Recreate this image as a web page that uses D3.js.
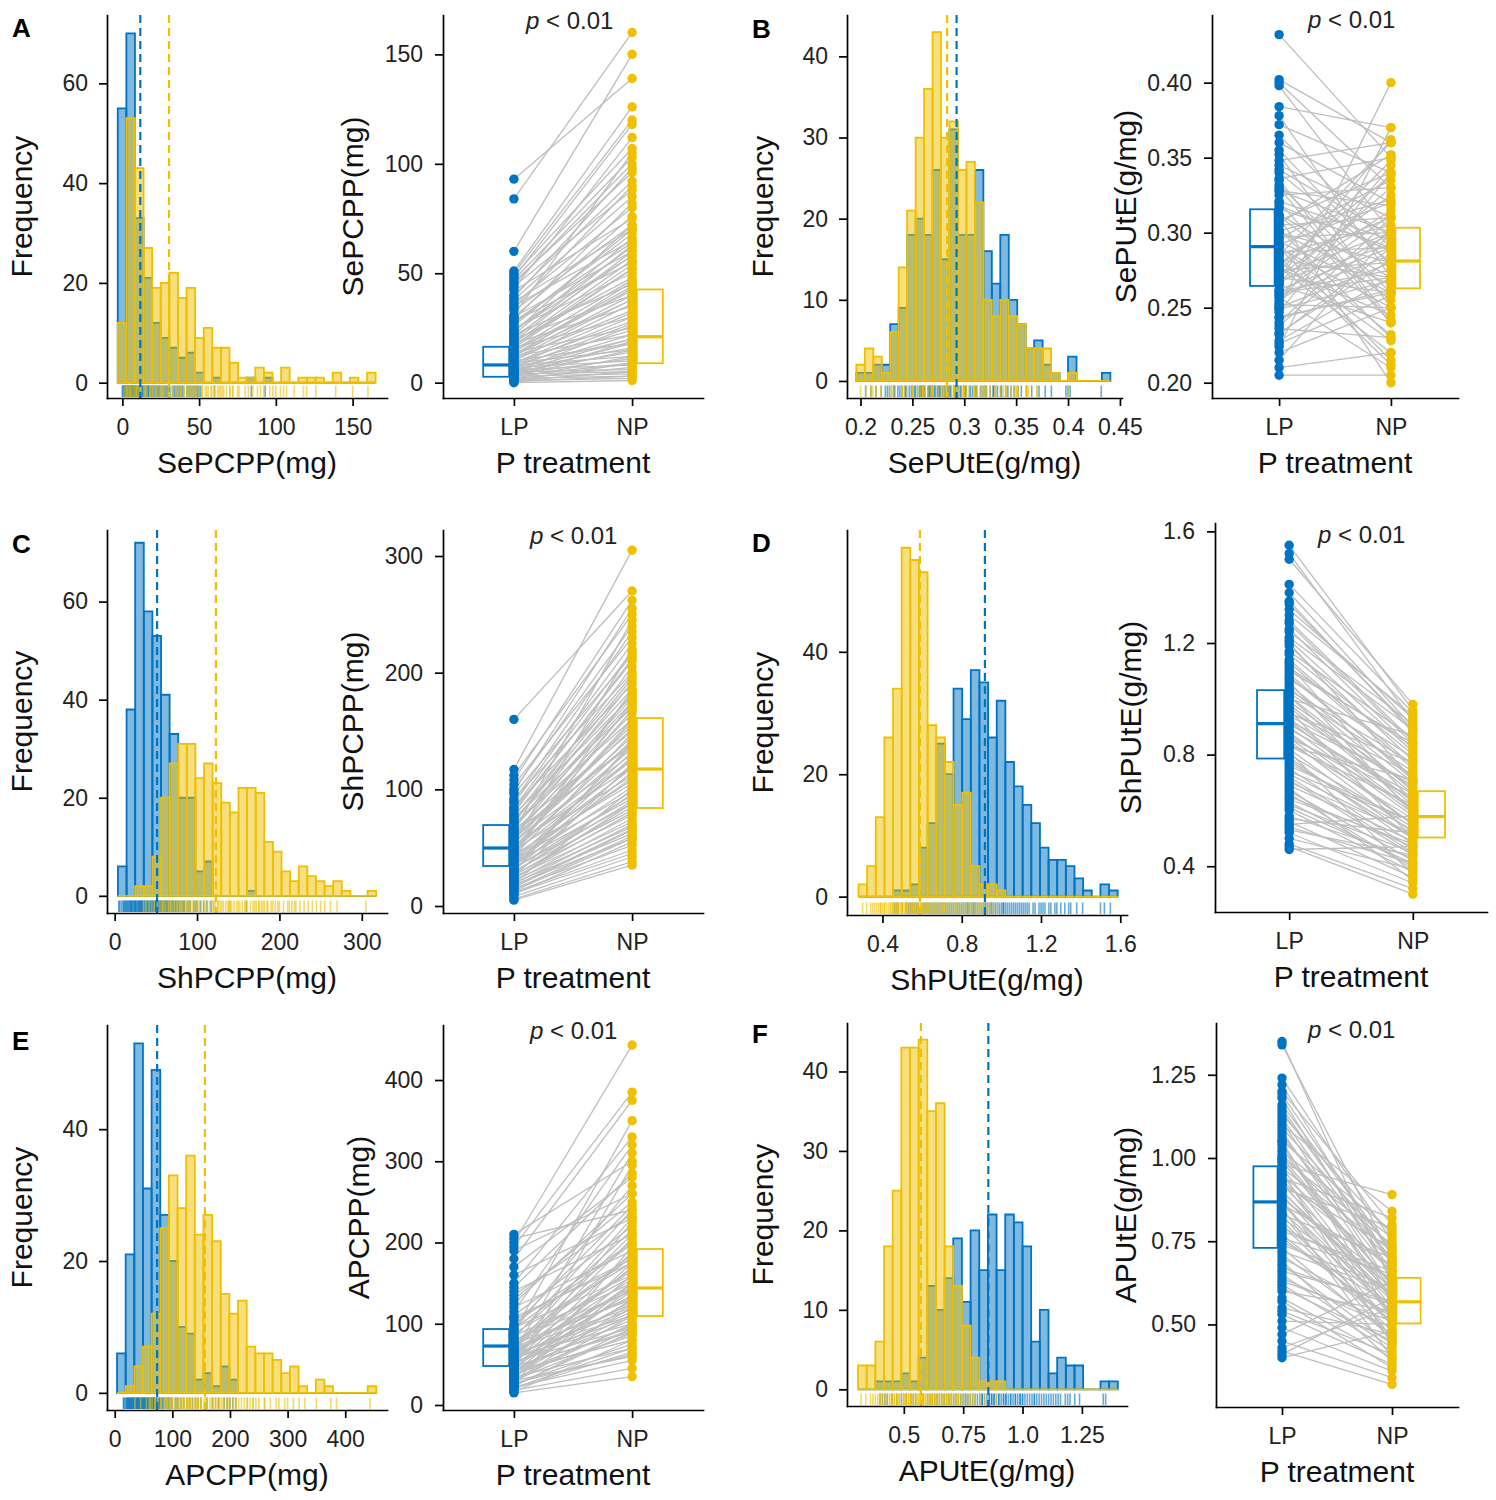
<!DOCTYPE html>
<html>
<head>
<meta charset="utf-8">
<script src="https://cdn.jsdelivr.net/npm/d3@7"></script>
<style>
  body { margin: 0; background: #fff; }
</style>
</head>
<body>
<svg id="chart" width="1496" height="1500"></svg>
<script>
// ---- data ----
const letters = ['A', 'B', 'C', 'D', 'E', 'F'];
const traitTitles = ['SePCPP(mg)', 'SePUtE(g/mg)', 'ShPCPP(mg)', 'ShPUtE(g/mg)', 'APCPP(mg)', 'APUtE(g/mg)'];
const treatments = ['LP', 'NP'];
const pValueText = ' < 0.01';

// histogram bins (first edge, width) and counts per group
const binStart = [-3, 0.196, 4, 0.279, 4, 0.3071];
const binWidth = [5.6, 0.00816, 10.45, 0.0436, 15, 0.03647];

const countsLP_A = [55,70,33,21,12,9,7,5,6,2,0,1,0,0,0,1,0,1,0,0,0,0,0,0,0,0,0,0,0,0];
const countsNP_A = [12,53,43,27,19,20,22,17,19,9,11,7,7,4,1,1,3,2,0,3,0,1,1,1,0,2,0,1,0,2];
const countsLP_B = [1,1,2,2,7,9,18,20,18,26,15,31,18,18,26,16,12,18,10,7,4,5,2,1,0,3,0,0,0,1];
const countsNP_B = [2,4,3,1,6,14,21,30,36,43,30,32,26,27,22,10,8,10,8,7,4,4,4,1,0,1,0,0,0,0];
const countsLP_C = [6,38,72,58,53,41,33,20,20,5,7,0,0,0,0,1,0,0,0,0,0,0,0,0,0,0,0,0,0,0];
const countsNP_C = [0,0,2,2,8,20,27,31,31,24,27,23,19,17,22,22,21,11,9,5,3,6,4,3,2,3,1,0,0,1];
const countsLP_D = [0,0,0,0,1,1,2,8,12,25,20,34,29,37,35,26,32,22,18,15,12,8,6,6,5,3,1,0,2,1];
const countsNP_D = [2,5,13,26,34,57,55,53,28,26,22,15,17,5,2,2,1,0,0,0,0,0,0,0,0,0,0,0,0,0];
const countsLP_E = [6,21,53,31,49,27,20,10,9,2,3,1,4,2,0,0,0,0,0,0,0,0,0,0,0,0,0,0,0,0];
const countsNP_E = [0,1,4,7,12,25,33,28,36,24,27,23,15,12,14,7,6,6,5,3,4,1,0,2,1,0,0,0,0,1];
const countsLP_F = [0,0,1,1,1,2,1,4,13,10,14,19,11,20,15,22,15,22,21,18,6,10,2,4,3,3,0,0,1,1];
const countsNP_F = [3,3,6,18,25,43,43,44,35,36,18,13,8,4,1,1,1,0,0,0,0,0,0,0,0,0,0,0,0,0];

// group means (dashed lines): [LP, NP]
const means_A = [11.7, 30.4];
const means_B = [0.2926, 0.2835];
const means_C = [51.5, 122.9];
const means_D = [0.917, 0.589];
const means_E = [73.6, 156.5];
const means_F = [0.856, 0.572];

// paired genotype values (LP[i] joined to NP[i])
const pairLP_A = [93,84,60,51,50,49,48,47,46,45,44,42,40,38,37,36,35,33,31,30,28,27,25,24,22,21,20,19,18,17,16,15,14,13,12,11,10,9,9,8,8,7,7,6,6,5,5,4,4,3,3,2,2,1,1,0.5,0,12,5,3,
  2,4,6,8,10,12,14,16,18,20,22,24,26,28,30,1,3,5,7,9,11,13,15,17,19,23,29,34,39,43];
const pairNP_A = [139,160,150,126,120,107,118,103,96,100,88,75,92,85,70,80,65,72,105,60,55,68,50,62,45,58,40,48,35,52,30,42,25,38,22,33,18,28,15,24,12,20,10,16,8,14,6,11,5,9,4,7,3,5,2,3,1,46,26,19,
  12,18,22,30,36,40,44,52,56,63,66,58,70,64,76,9,15,20,27,32,38,43,47,54,60,72,82,90,98,112];
const pairLP_B = [0.432,0.402,0.400,0.398,0.384,0.378,0.372,0.365,0.360,0.352,0.348,0.345,0.340,0.336,0.332,0.328,0.325,0.320,0.316,0.312,0.308,0.305,0.302,0.300,0.297,0.294,0.292,0.290,0.287,0.285,0.282,0.280,0.277,0.275,0.272,0.270,0.267,0.265,0.262,0.260,0.257,0.255,0.252,0.250,0.247,0.244,0.240,0.236,0.232,0.228,0.224,0.220,0.215,0.210,0.205,0.250,0.310,0.290,0.270,0.330,
  0.300,0.286,0.276,0.266,0.258,0.311,0.321,0.296,0.281,0.271,0.261,0.253,0.243,0.238,0.318,0.328,0.335,0.342,0.355,0.306,0.291,0.279,0.268,0.259,0.249,0.233,0.226,0.301,0.284,0.274];
const pairNP_B = [0.350,0.360,0.330,0.300,0.370,0.270,0.340,0.290,0.320,0.250,0.360,0.310,0.280,0.350,0.260,0.300,0.330,0.240,0.290,0.270,0.340,0.310,0.230,0.280,0.300,0.260,0.320,0.250,0.290,0.360,0.270,0.310,0.220,0.280,0.300,0.260,0.330,0.240,0.290,0.270,0.210,0.300,0.250,0.280,0.340,0.260,0.310,0.230,0.290,0.270,0.370,0.250,0.300,0.220,0.205,0.400,0.200,0.215,0.362,0.240,
  0.265,0.305,0.245,0.315,0.285,0.255,0.295,0.335,0.228,0.325,0.275,0.345,0.262,0.302,0.288,0.318,0.242,0.298,0.278,0.352,0.232,0.338,0.292,0.312,0.268,0.282,0.258,0.322,0.212,0.348];
const pairLP_C = [160,117,112,108,104,100,96,92,88,85,82,78,75,72,70,67,65,62,60,58,56,54,52,50,48,46,44,42,40,38,37,35,33,32,30,29,27,26,25,24,22,21,20,19,18,16,15,14,12,10,8,6,5,30,45,55,64,20,36,50,
  11,13,17,23,28,31,34,39,41,43,47,49,51,53,57,59,61,63,66,69,71,74,77,80,84,90,98,25,33,45];
const pairNP_C = [270,305,250,262,230,240,215,200,225,190,210,180,170,195,160,175,150,165,140,155,130,145,120,135,112,125,105,118,98,110,92,102,88,95,82,90,78,85,72,80,68,75,62,70,58,65,52,60,48,55,42,38,35,140,185,220,245,100,128,160,
  45,58,66,88,96,115,120,132,108,148,142,158,126,168,152,172,182,138,192,178,205,186,198,212,218,235,255,122,138,175];
const pairLP_D = [1.55,1.52,1.50,1.41,1.38,1.35,1.32,1.28,1.25,1.22,1.19,1.16,1.13,1.10,1.08,1.05,1.03,1.01,0.99,0.97,0.95,0.93,0.91,0.90,0.88,0.87,0.85,0.84,0.82,0.80,0.79,0.77,0.75,0.73,0.71,0.69,0.67,0.65,0.63,0.62,0.60,0.58,0.56,0.54,0.52,0.50,0.48,0.46,0.47,0.55,1.00,0.92,0.86,1.06,0.74,0.96,1.12,0.81,0.68,1.20,
  0.61,0.64,0.66,0.70,0.72,0.76,0.78,0.83,0.86,0.89,0.92,0.94,0.98,1.02,1.04,1.07,1.09,1.11,1.14,1.17,1.21,1.24,1.27,1.30,1.34,0.57,0.53,0.83,0.95,1.01];
const pairNP_D = [0.96,0.92,0.98,0.95,0.90,0.88,0.93,0.85,0.82,0.89,0.78,0.80,0.75,0.84,0.72,0.70,0.77,0.66,0.68,0.62,0.73,0.60,0.64,0.58,0.55,0.61,0.52,0.57,0.50,0.54,0.48,0.53,0.46,0.51,0.44,0.49,0.42,0.47,0.40,0.45,0.38,0.43,0.36,0.41,0.34,0.39,0.32,0.47,0.30,0.58,0.87,0.70,0.65,0.59,0.56,0.50,0.63,0.37,0.35,0.71,
  0.41,0.48,0.39,0.52,0.45,0.56,0.50,0.62,0.55,0.66,0.59,0.69,0.63,0.74,0.67,0.79,0.71,0.83,0.76,0.86,0.81,0.91,0.84,0.94,0.89,0.52,0.44,0.71,0.77,0.60];
const pairLP_E = [210,205,200,195,190,180,170,160,150,140,130,120,115,110,105,100,95,92,88,85,82,80,77,75,72,70,68,66,64,62,60,58,56,54,52,50,48,46,44,42,40,38,36,34,32,30,28,26,24,22,20,18,16,15,45,65,90,55,35,25,
  21,23,27,29,31,33,37,39,41,43,47,49,51,53,57,59,61,63,67,69,71,74,78,84,94,98,108,125,135,145];
const pairNP_E = [300,240,443,385,260,375,280,230,330,210,250,190,320,220,180,200,160,270,175,150,240,140,185,130,165,120,210,145,110,155,100,135,125,95,170,115,90,140,105,80,130,85,120,70,100,60,110,75,90,55,65,45,80,35,295,310,350,225,150,195,
  70,95,62,125,88,145,98,160,112,175,92,150,128,188,108,205,118,168,142,230,132,182,158,215,198,245,175,260,235,285];
const pairLP_F = [1.35,1.34,1.24,1.22,1.20,1.18,1.16,1.12,1.10,1.08,1.06,1.04,1.02,1.00,0.98,0.97,0.95,0.93,0.92,0.90,0.88,0.87,0.86,0.84,0.82,0.80,0.79,0.77,0.75,0.73,0.72,0.70,0.68,0.66,0.64,0.62,0.60,0.58,0.55,0.53,0.51,0.49,0.47,0.45,0.43,0.42,0.40,0.41,0.96,1.05,0.85,0.91,0.76,0.94,1.00,0.83,0.69,0.99,1.14,0.89,
  0.61,0.63,0.65,0.67,0.71,0.74,0.76,0.78,0.81,0.83,0.86,0.88,0.90,0.93,0.95,0.97,0.99,1.01,1.03,1.05,1.07,1.09,1.11,1.13,1.15,1.19,0.57,0.54,0.87,0.92];
const pairNP_F = [0.62,0.70,0.75,0.68,0.80,0.64,0.72,0.66,0.84,0.60,0.70,0.58,0.76,0.62,0.89,0.55,0.66,0.52,0.73,0.57,0.61,0.50,0.68,0.54,0.59,0.48,0.64,0.51,0.56,0.46,0.60,0.53,0.44,0.57,0.49,0.42,0.54,0.40,0.47,0.38,0.50,0.36,0.63,0.34,0.55,0.32,0.48,0.58,0.44,0.52,0.40,0.79,0.65,0.82,0.74,0.45,0.39,0.60,0.69,0.53,
  0.45,0.51,0.43,0.56,0.47,0.61,0.52,0.66,0.50,0.70,0.55,0.63,0.58,0.67,0.53,0.72,0.62,0.69,0.57,0.78,0.65,0.73,0.61,0.77,0.68,0.71,0.37,0.41,0.46,0.59];

// box quartiles [q1, median, q3]
const boxLP_A = [2.7, 8.1, 16.4],     boxNP_A = [8.9, 21, 42.6];
const boxLP_B = [0.2645, 0.2907, 0.3156], boxNP_B = [0.2629, 0.2811, 0.3033];
const boxLP_C = [34.3, 49.7, 69.4],   boxNP_C = [84, 117.4, 161.1];
const boxLP_D = [0.786, 0.911, 1.031], boxNP_D = [0.503, 0.578, 0.669];
const boxLP_E = [48, 72.6, 93.5],     boxNP_E = [109.5, 144, 192];
const boxLP_F = [0.730, 0.868, 0.975], boxNP_F = [0.503, 0.568, 0.640];

// tick labels
const histXLabels_A = ['0', '50', '100', '150'];
const histXLabels_B = ['0.2', '0.25', '0.3', '0.35', '0.4', '0.45'];
const histXLabels_C = ['0', '100', '200', '300'];
const histXLabels_D = ['0.4', '0.8', '1.2', '1.6'];
const histXLabels_E = ['0', '100', '200', '300', '400'];
const histXLabels_F = ['0.5', '0.75', '1.0', '1.25'];
const histYLabels_A = ['0', '20', '40', '60'];
const histYLabels_B = ['0', '10', '20', '30', '40'];
const histYLabels_C = ['0', '20', '40', '60'];
const histYLabels_D = ['0', '20', '40'];
const histYLabels_E = ['0', '20', '40'];
const histYLabels_F = ['0', '10', '20', '30', '40'];
const pairYLabels_A = ['0', '50', '100', '150'];
const pairYLabels_B = ['0.20', '0.25', '0.30', '0.35', '0.40'];
const pairYLabels_C = ['0', '100', '200', '300'];
const pairYLabels_D = ['0.4', '0.8', '1.2', '1.6'];
const pairYLabels_E = ['0', '100', '200', '300', '400'];
const pairYLabels_F = ['0.50', '0.75', '1.00', '1.25'];

// ---- tables built from the arrays above ----
const countsLP = [countsLP_A, countsLP_B, countsLP_C, countsLP_D, countsLP_E, countsLP_F];
const countsNP = [countsNP_A, countsNP_B, countsNP_C, countsNP_D, countsNP_E, countsNP_F];
const means = [means_A, means_B, means_C, means_D, means_E, means_F];
const pairLP = [pairLP_A, pairLP_B, pairLP_C, pairLP_D, pairLP_E, pairLP_F];
const pairNP = [pairNP_A, pairNP_B, pairNP_C, pairNP_D, pairNP_E, pairNP_F];
const boxLP = [boxLP_A, boxLP_B, boxLP_C, boxLP_D, boxLP_E, boxLP_F];
const boxNP = [boxNP_A, boxNP_B, boxNP_C, boxNP_D, boxNP_E, boxNP_F];
const histXLabels = [histXLabels_A, histXLabels_B, histXLabels_C, histXLabels_D, histXLabels_E, histXLabels_F];
const histYLabels = [histYLabels_A, histYLabels_B, histYLabels_C, histYLabels_D, histYLabels_E, histYLabels_F];
const pairYLabels = [pairYLabels_A, pairYLabels_B, pairYLabels_C, pairYLabels_D, pairYLabels_E, pairYLabels_F];

// ---- layout (pixel positions of each panel) ----
const histLayout = [
  { x0: 107, x1: 387, y0: 15, y1: 398, xd: [-10.0, 172.4], yd: [-3.07, 73.7], letter: [12, 37], yTitle: 21 },
  { x0: 847, x1: 1122, y0: 15, y1: 398, xd: [0.187, 0.452], yd: [-2.1, 45.1], letter: [752, 38], yTitle: 762 },
  { x0: 107, x1: 387, y0: 530, y1: 913, xd: [-9.3, 330.6], yd: [-3.5, 74.6], letter: [12, 553], yTitle: 21 },
  { x0: 847, x1: 1127, y0: 530, y1: 915, xd: [0.221, 1.634], yd: [-3.0, 59.9], letter: [752, 552], yTitle: 762 },
  { x0: 107, x1: 387, y0: 1025, y1: 1410, xd: [-13.4, 472.5], yd: [-2.6, 55.8], letter: [12, 1050], yTitle: 21 },
  { x0: 847, x1: 1127, y0: 1023, y1: 1406, xd: [0.2607, 1.44], yd: [-2.1, 46.1], letter: [752, 1043], yTitle: 762 }
];
const pairLayout = [
  { x0: 443, x1: 703, y0: 15, y1: 398, yd: [-7, 168], yTitle: 352, pText: [526, 29] },
  { x0: 1212, x1: 1458, y0: 15, y1: 398, yd: [0.1898, 0.4451], yTitle: 1125, pText: [1308, 28] },
  { x0: 443, x1: 703, y0: 530, y1: 913, yd: [-6, 322.3], yTitle: 352, pText: [530, 544] },
  { x0: 1215, x1: 1487, y0: 523, y1: 912, yd: [0.236, 1.63], yTitle: 1130, pText: [1318, 543] },
  { x0: 443, x1: 703, y0: 1025, y1: 1410, yd: [-6.15, 467.7], yTitle: 358, pText: [530, 1039] },
  { x0: 1216, x1: 1458, y0: 1023, y1: 1407, yd: [0.252, 1.4055], yTitle: 1125, pText: [1308, 1038] }
];

const FONT = '"Liberation Sans", Arial, Helvetica, sans-serif';
const BLUE = '#0073C2', YELLOW = '#EFC000', GRAY = '#BEBEBE';
const TICK_FONT = 23, TITLE_FONT = 30;

const svg = d3.select('#chart').attr('font-family', FONT);

function styleAxis(g) {
  g.attr('font-family', FONT).attr('font-size', TICK_FONT);
  g.select('.domain').attr('stroke', '#000').attr('stroke-width', 1.7).attr('stroke-linecap', 'square');
  g.selectAll('.tick line').attr('stroke', '#000').attr('stroke-width', 1.7);
  g.selectAll('.tick text').attr('fill', '#222');
}

function xTitle(g, text, cx, y) {
  g.append('text').attr('x', cx).attr('y', y).attr('text-anchor', 'middle')
    .attr('font-size', TITLE_FONT).attr('fill', '#111').text(text);
}

function yTitle(g, text, x, cy) {
  g.append('text').attr('transform', `translate(${x},${cy}) rotate(-90)`)
    .attr('dy', '0.35em').attr('text-anchor', 'middle')
    .attr('font-size', TITLE_FONT).attr('fill', '#111').text(text);
}

function drawHist(i) {
  const L = histLayout[i];
  const g = svg.append('g');
  const x = d3.scaleLinear().domain(L.xd).range([L.x0, L.x1]);
  const y = d3.scaleLinear().domain(L.yd).range([L.y1, L.y0]);
  const groups = [
    { values: pairLP[i], counts: countsLP[i], mean: means[i][0], color: BLUE },
    { values: pairNP[i], counts: countsNP[i], mean: means[i][1], color: YELLOW }
  ];
  const rugLen = 0.03 * (L.y1 - L.y0);

  groups.forEach(grp => {
    g.append('g').selectAll('line')
      .data(grp.values)
      .enter().append('line')
      .attr('x1', d => x(d)).attr('x2', d => x(d))
      .attr('y1', L.y1 - 1).attr('y2', L.y1 - 1 - rugLen)
      .attr('stroke', grp.color).attr('stroke-opacity', 0.6).attr('stroke-width', 1.6);
  });

  groups.forEach(grp => {
    const bins = grp.counts.map((n, k) => ({
      x0: binStart[i] + k * binWidth[i],
      x1: binStart[i] + (k + 1) * binWidth[i],
      n
    }));
    g.append('g').selectAll('path')
      .data(bins)
      .enter().append('path')
      .attr('d', b => `M${x(b.x0)},${y(0)}V${y(b.n)}H${x(b.x1)}V${y(0)}Z`)
      .attr('fill', grp.color).attr('fill-opacity', 0.5)
      .attr('stroke', grp.color).attr('stroke-width', 1.8);
  });

  groups.forEach(grp => {
    g.append('line')
      .attr('x1', x(grp.mean)).attr('x2', x(grp.mean))
      .attr('y1', L.y0).attr('y2', L.y1)
      .attr('stroke', grp.color).attr('stroke-width', 2.2)
      .attr('stroke-dasharray', '8,5');
  });

  const xl = histXLabels[i], yl = histYLabels[i];
  g.append('g')
    .attr('transform', `translate(0,${L.y1})`)
    .call(d3.axisBottom(x).tickValues(xl.map(Number)).tickFormat((d, k) => xl[k])
      .tickSize(8).tickPadding(13).tickSizeOuter(0))
    .call(styleAxis);
  g.append('g')
    .attr('transform', `translate(${L.x0},0)`)
    .call(d3.axisLeft(y).tickValues(yl.map(Number)).tickFormat((d, k) => yl[k])
      .tickSize(8).tickPadding(11).tickSizeOuter(0))
    .call(styleAxis);

  xTitle(g, traitTitles[i], (L.x0 + L.x1) / 2, L.y1 + 75);
  yTitle(g, 'Frequency', L.yTitle, (L.y0 + L.y1) / 2);

  g.append('text').attr('x', L.letter[0]).attr('y', L.letter[1])
    .attr('font-size', 26).attr('font-weight', 'bold').attr('fill', '#000')
    .text(letters[i]);
}

function drawPaired(i) {
  const L = pairLayout[i];
  const g = svg.append('g');
  const x = d3.scalePoint().domain(treatments).range([L.x0, L.x1]).padding(0.6);
  const y = d3.scaleLinear().domain(L.yd).range([L.y1, L.y0]);
  const lp = pairLP[i], np = pairNP[i];

  g.append('g').selectAll('line')
    .data(d3.range(lp.length))
    .enter().append('line')
    .attr('x1', x('LP')).attr('y1', k => y(lp[k]))
    .attr('x2', x('NP')).attr('y2', k => y(np[k]))
    .attr('stroke', GRAY).attr('stroke-width', 1.3);

  [[lp, 'LP', BLUE], [np, 'NP', YELLOW]].forEach(([vals, t, c]) => {
    g.append('g').selectAll('circle')
      .data(vals)
      .enter().append('circle')
      .attr('cx', x(t)).attr('cy', d => y(d)).attr('r', 4.7)
      .attr('fill', c);
  });

  const step = x.step();
  [[boxLP[i], 'LP', BLUE, -1], [boxNP[i], 'NP', YELLOW, 1]].forEach(([b, t, c, side]) => {
    const cx = x(t) + side * 0.15 * step, w = 0.22 * step;
    g.append('rect')
      .attr('x', cx - w / 2).attr('y', y(b[2]))
      .attr('width', w).attr('height', y(b[0]) - y(b[2]))
      .attr('fill', 'none').attr('stroke', c).attr('stroke-width', 1.8);
    g.append('line')
      .attr('x1', cx - w / 2).attr('x2', cx + w / 2)
      .attr('y1', y(b[1])).attr('y2', y(b[1]))
      .attr('stroke', c).attr('stroke-width', 3.2);
  });

  const yl = pairYLabels[i];
  g.append('g')
    .attr('transform', `translate(0,${L.y1})`)
    .call(d3.axisBottom(x).tickSize(8).tickPadding(13).tickSizeOuter(0))
    .call(styleAxis);
  g.append('g')
    .attr('transform', `translate(${L.x0},0)`)
    .call(d3.axisLeft(y).tickValues(yl.map(Number)).tickFormat((d, k) => yl[k])
      .tickSize(8).tickPadding(12).tickSizeOuter(0))
    .call(styleAxis);

  xTitle(g, 'P treatment', (L.x0 + L.x1) / 2, L.y1 + 75);
  yTitle(g, traitTitles[i], L.yTitle, (L.y0 + L.y1) / 2);

  const pt = g.append('text').attr('x', L.pText[0]).attr('y', L.pText[1])
    .attr('font-size', 24).attr('fill', '#222');
  pt.append('tspan').attr('font-style', 'italic').text('p');
  pt.append('tspan').text(pValueText);
}

letters.forEach((d, i) => {
  drawHist(i);
  drawPaired(i);
});
</script>
</body>
</html>
